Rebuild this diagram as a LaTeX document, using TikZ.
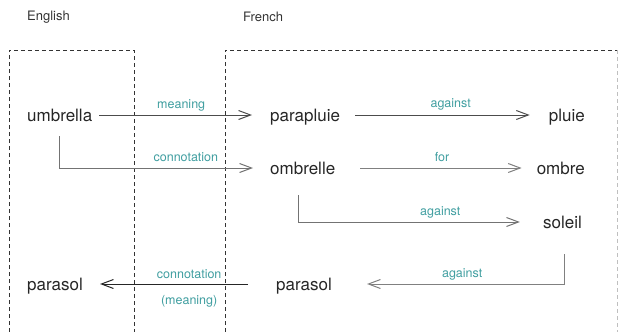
\documentclass[tikz,border=0pt]{standalone}
\usepackage{fontspec}
\setmainfont{TeX Gyre Heros}
\usetikzlibrary{arrows.meta, positioning}
\definecolor{relteal}{RGB}{64,158,160}
\tikzstyle{lang} = [text=black!80, font=\fontsize{13}{15}\selectfont, inner sep=0pt]
\tikzstyle{word} = [text=black!85, font=\fontsize{17}{20}\selectfont, inner sep=0pt, text height=12pt, text depth=0pt]
\tikzstyle{rel} = [text=relteal, font=\fontsize{12.5}{14}\selectfont, inner sep=0pt, text height=9pt, text depth=2.5pt]
\tikzstyle{langbox} = [draw=black!80, line width=0.8pt, dash pattern=on 4pt off 3pt]
\tikzstyle{link} = [line width=1pt, -{Straight Barb[length=12pt, width=9pt]}]

\begin{document}
\begin{tikzpicture}[x=1pt, y=-1pt]

    \useasboundingbox (0,0) rectangle (619,332);

    % language columns
    \draw [langbox] (9,332) -- (9,50) -- (134,50) -- (134,332);
    \draw [langbox] (225,332) -- (225,50) -- (617,50);
    \draw [langbox, draw=black!25] (617,50) -- (617,332);

    \node (english) [lang, anchor=west] at (27,17) {English};
    \node (french) [lang, anchor=west] at (243,17) {French};

    \node (umbrella) [word, anchor=west] at (27,115) {umbrella};
    \node (parapluie) [word, anchor=west] at (270,115) {parapluie};
    \node (pluie) [word, anchor=east] at (585,115) {pluie};
    \node (ombrelle) [word, anchor=west] at (270,168) {ombrelle};
    \node (ombre) [word, anchor=east] at (585,168) {ombre};
    \node (soleil) [word, anchor=east] at (582,222) {soleil};
    \node (parasol_en) [word, anchor=west] at (27,284) {parasol};
    \node (parasol_fr) [word, anchor=west] at (276,284) {parasol};

    \draw [link, black!70, shorten <=7pt, shorten >=18pt] (umbrella.east) -- node [rel, above=4pt] {meaning} (parapluie.west);
    \draw [link, black!55, shorten <=15pt, shorten >=17pt] (umbrella.south) |- node [rel, above=4pt, pos=0.8] {connotation} (ombrelle.west);

    \draw [link, black!70, shorten <=15pt, shorten >=19pt] (parapluie.east) -- node [rel, above=5pt, pos=0.53] {against} (pluie.west);
    \draw [link, black!50, shorten <=25pt, shorten >=15pt] (ombrelle.east) -- node [rel, above=4pt, pos=0.53] {for} (ombre.west);
    \draw [link, black!55, shorten <=21pt, shorten >=23pt] ([xshift=-4pt]ombrelle.south) |- node [rel, above=4pt, pos=0.79] {against} (soleil.west);
    \draw [link, black!50, shorten <=26pt, shorten >=35pt] ([xshift=2pt]soleil.south) |- node [rel, above=4pt, pos=0.72] {against} (parasol_fr.east);

    \draw [link, black!85, shorten <=28pt, shorten >=17pt] (parasol_fr.west) -- node [rel, above=3pt, pos=0.45] {connotation} node [rel, below=11pt, pos=0.45] {(meaning)} (parasol_en.east);

\end{tikzpicture}
\end{document}
